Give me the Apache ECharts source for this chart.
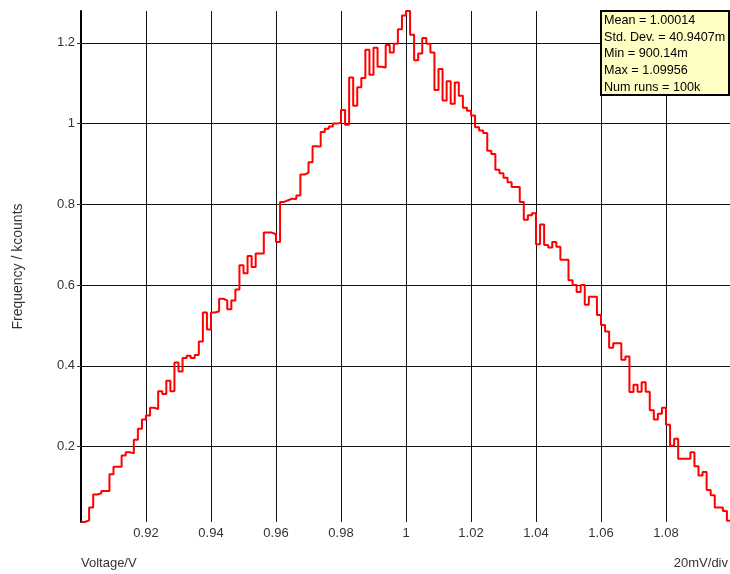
<!DOCTYPE html>
<html><head><meta charset="utf-8">
<script src="https://cdn.jsdelivr.net/npm/echarts@6/dist/echarts.min.js"></script>
<style>html,body{margin:0;padding:0;background:#fff}#c{width:730px;height:574px}</style>
</head><body><div id="c"></div>
<script>
// Histogram bins (left edge of first bin, bin width, counts in kcounts)
const binStart = 0.9;
const binWidth = 0.00125;
const counts = [
 0.013,0.017,0.049,0.081,0.084,0.090,0.090,0.131,0.150,0.150,
 0.178,0.186,0.183,0.217,0.244,0.267,0.277,0.296,0.293,0.337,
 0.330,0.363,0.337,0.408,0.386,0.419,0.425,0.419,0.427,0.460,
 0.532,0.490,0.532,0.535,0.566,0.562,0.540,0.562,0.589,0.649,
 0.629,0.672,0.645,0.678,0.678,0.730,0.730,0.726,0.707,0.806,
 0.810,0.814,0.813,0.822,0.874,0.878,0.904,0.944,0.943,0.979,
 0.987,0.993,1.000,1.002,1.034,0.997,1.114,1.044,1.090,1.113,
 1.183,1.121,1.188,1.141,1.139,1.195,1.176,1.198,1.234,1.268,
 1.279,1.220,1.157,1.174,1.212,1.198,1.176,1.083,1.135,1.057,
 1.105,1.049,1.102,1.069,1.039,1.032,1.020,0.991,0.983,0.977,
 0.933,0.925,0.886,0.877,0.866,0.855,0.843,0.843,0.806,0.762,
 0.773,0.778,0.701,0.750,0.699,0.693,0.707,0.695,0.663,0.663,
 0.612,0.600,0.583,0.600,0.551,0.571,0.571,0.526,0.501,0.485,
 0.445,0.456,0.456,0.415,0.423,0.335,0.353,0.336,0.359,0.336,
 0.290,0.267,0.281,0.296,0.254,0.202,0.219,0.170,0.170,0.170,
 0.186,0.151,0.128,0.137,0.092,0.079,0.049,0.049,0.040,0.016
];
const xMin = 0.9, xMax = 1.1, xStep = 0.02;
const statsLines = ['Mean = 1.00014', 'Std. Dev. = 40.9407m', 'Min = 900.14m', 'Max = 1.09956', 'Num runs = 100k'];
const xTitle = 'Voltage/V';
const yTitle = 'Frequency / kcounts';
const scaleNote = '20mV/div';

const pts = counts.map((v, i) => [binStart + i * binWidth, v]);
pts.push([binStart + counts.length * binWidth, counts[counts.length - 1]]);

const FONT = 'Liberation Sans';
const chart = echarts.init(document.getElementById('c'), null, {renderer: 'canvas'});
chart.setOption({
  animation: false,
  backgroundColor: '#fff',
  textStyle: {fontFamily: FONT},
  grid: {left: 81, top: 11, width: 650, height: 511, containLabel: false, outerBoundsMode: 'none'},
  xAxis: {
    type: 'value', min: xMin, max: xMax, interval: xStep,
    axisLine: {show: false}, axisTick: {show: false},
    axisLabel: {fontSize: 13, color: '#333', margin: 5, showMinLabel: false, showMaxLabel: false, fontFamily: FONT},
    splitLine: {show: true, lineStyle: {color: '#111', width: 1}}
  },
  yAxis: {
    type: 'value', min: Math.min(...counts), max: Math.max(...counts), splitNumber: 7,
    name: yTitle, nameLocation: 'middle', nameGap: 56,
    nameTextStyle: {fontSize: 14, color: '#333', fontFamily: FONT},
    axisLine: {show: true, lineStyle: {color: '#000', width: 2}},
    axisTick: {show: true, length: 4, lineStyle: {color: '#333'}},
    axisLabel: {fontSize: 13, color: '#333', margin: 6, showMinLabel: false, showMaxLabel: false, fontFamily: FONT},
    splitLine: {show: true, showMinLine: false, showMaxLine: false, lineStyle: {color: '#111', width: 1}}
  },
  series: [{
    type: 'line', step: 'end', data: pts, symbol: 'none',
    lineStyle: {color: '#ff0000', width: 2}, z: 5
  }],
  graphic: [
    {type: 'rect', shape: {x: 601, y: 11, width: 128, height: 84}, style: {fill: '#ffffc4', stroke: '#000', lineWidth: 2}, z: 10},
    {type: 'text', x: 604, y: 12, z: 11, style: {text: statsLines.join('\n'), font: '12.6px "Liberation Sans"', lineHeight: 16.7, fill: '#000', textVerticalAlign: 'top'}},
    {type: 'text', x: 81, y: 563, style: {text: xTitle, font: '13px "Liberation Sans"', fill: '#333', textVerticalAlign: 'middle'}},
    {type: 'text', x: 728, y: 563, style: {text: scaleNote, font: '13px "Liberation Sans"', fill: '#333', textAlign: 'right', textVerticalAlign: 'middle'}}
  ]
});
</script></body></html>
